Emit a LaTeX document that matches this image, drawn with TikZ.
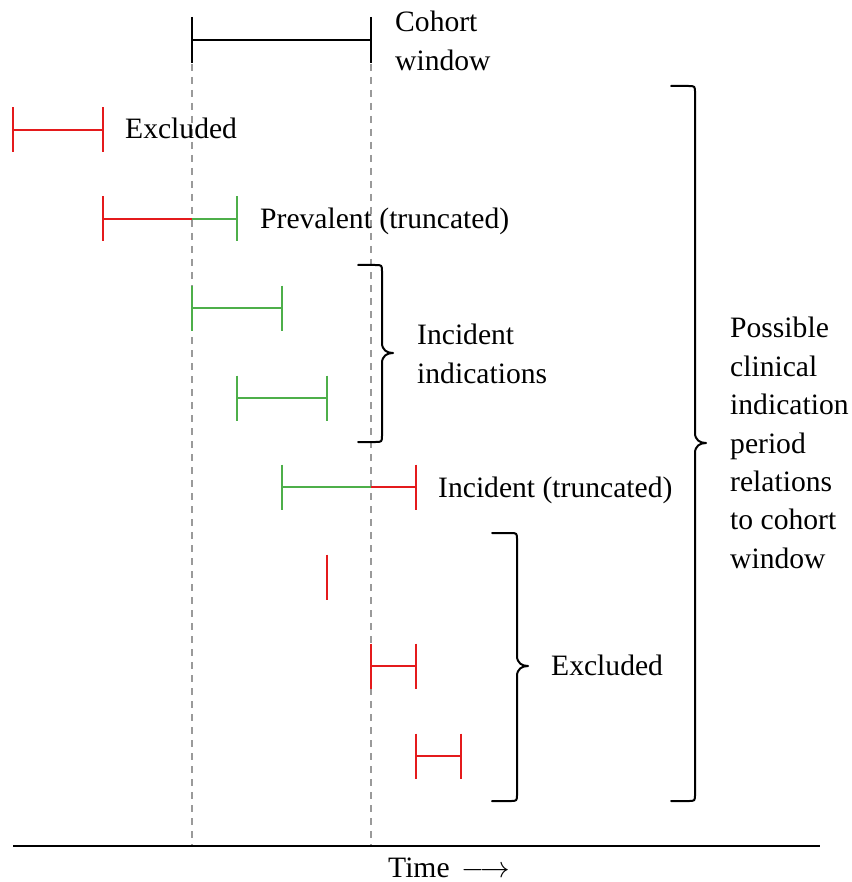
\documentclass[tikz,border=0pt]{standalone}
\usepackage{fix-cm}
\usepackage{fontspec}
\setmainfont{Liberation Serif}
\definecolor{exred}{HTML}{E41A1C}
\definecolor{incgreen}{HTML}{4DAF4A}
\definecolor{guide}{HTML}{9A9A9A}

% curly bracket opening to the left: start x, spine x, top, tip, bottom
\newcommand\curlybr[5]{%
  \draw[bracestyle] (#1,#3) -- (#2-7,#3) .. controls (#2,#3) .. (#2,#3+7)
    -- (#2,#4-10) .. controls (#2,#4-3) and (#2+5,#4) .. (#2+11,#4)
    .. controls (#2+5,#4) and (#2,#4+3) .. (#2,#4+10)
    -- (#2,#5-7) .. controls (#2,#5) .. (#2-7,#5) -- (#1,#5);}

\begin{document}
\begin{tikzpicture}[x=1pt,y=-1pt,
  every node/.style={inner sep=0pt,font=\fontsize{29.6}{38.4}\selectfont},
  bar/.style={line width=2pt},
  red bar/.style={bar,exred},
  green bar/.style={bar,incgreen},
  cohort bar/.style={line width=2.4pt,black},
  bracestyle/.style={line width=2pt,black,line cap=round,line join=round},
  guideline/.style={guide,line width=1.8pt,dash pattern=on 7pt off 6pt},
  axis/.style={line width=2pt,black}]
\useasboundingbox (0,0) rectangle (851,882);

% vertical guides at the cohort window limits
\coordinate (wstart top) at (192,64);
\coordinate (wend top) at (371,64);
\coordinate (wstart bot) at (192,846);
\coordinate (wend bot) at (371,846);
\draw[guideline] (wstart top) -- (wstart bot);
\draw[guideline] (wend top) -- (wend bot);

% time axis
\coordinate (axis left) at (13,846);
\coordinate (axis right) at (820,846);
\draw[axis] (axis left) -- (axis right);
\node[anchor=base west] (timelbl) at (388,877) {Time \,$\longrightarrow$};

% cohort window
\draw[cohort bar] (192,40) -- (371,40) (192,17) -- (192,63) (371,17) -- (371,63);
\node[anchor=west,align=left] (cohortlbl) at (395,41) {Cohort\\window};

% ended before the window
\draw[red bar] (13,130) -- (103,130) (13,107.5) -- (13,152.5) (103,107.5) -- (103,152.5);
\node[anchor=base west] (exc1) at (125,139) {Excluded};

% running into the window
\draw[red bar] (103,219) -- (192,219) (103,196.5) -- (103,241.5);
\draw[green bar] (192,219) -- (237,219) (237,196.5) -- (237,241.5);
\node[anchor=base west] (prev) at (260,228.5) {Prevalent (truncated)};

% inside the window
\draw[green bar] (192,308) -- (282,308) (192,285.5) -- (192,330.5) (282,285.5) -- (282,330.5);
\draw[green bar] (237,398) -- (327,398) (237,375.5) -- (237,420.5) (327,375.5) -- (327,420.5);
\curlybr{358}{382}{265}{353}{442}
\node[anchor=west,align=left] (inc) at (417,354) {Incident\\indications};

% running past the window end
\draw[green bar] (282,487) -- (371,487) (282,464.5) -- (282,509.5);
\draw[red bar] (371,487) -- (416,487) (416,464.5) -- (416,509.5);
\node[anchor=base west] (inctr) at (438,497) {Incident (truncated)};

% zero-length period
\draw[red bar] (327,554.5) -- (327,599.5);

% starting at or after the window end
\draw[red bar] (371,666) -- (416,666) (371,643.5) -- (371,688.5) (416,643.5) -- (416,688.5);
\draw[red bar] (416,756) -- (461,756) (416,733.5) -- (416,778.5) (461,733.5) -- (461,778.5);
\curlybr{492}{517}{533}{666}{801}
\node[anchor=base west] (exc2) at (551,675) {Excluded};

% all cases
\curlybr{671}{695}{86}{443}{801}
\node[anchor=west,align=left] (all) at (730,443)
  {Possible\\clinical\\indication\\period\\relations\\to cohort\\window};
\end{tikzpicture}
\end{document}
